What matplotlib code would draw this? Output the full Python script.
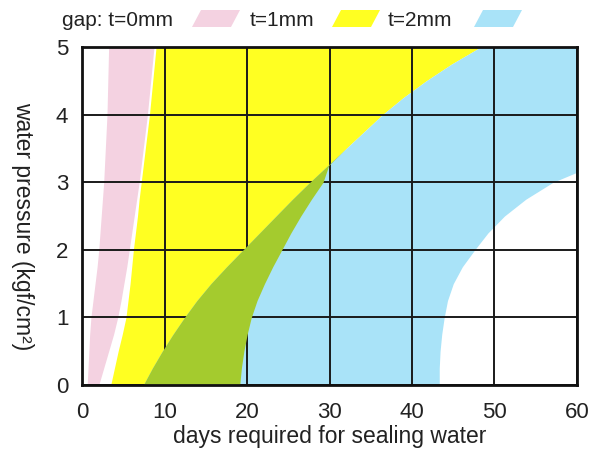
import matplotlib
matplotlib.use("Agg")
import matplotlib.pyplot as plt
from matplotlib.patches import Polygon
import numpy as np

plt.rcParams['font.family'] = ['Liberation Sans', 'DejaVu Sans']

# water pressure levels (kgf/cm2) at which band edges were read
pressure = [0, 0.25, 0.5, 0.75, 1, 1.25, 1.5, 1.75, 2, 2.25, 2.5,
            2.75, 3, 3.25, 3.5, 3.75, 4, 4.25, 4.5, 4.75, 5]

# t = 0 mm band edges (days)
t0_left = [0.6, 0.7, 0.8, 0.9, 1.05, 1.3, 1.55, 1.8, 2.0, 2.15, 2.3,
           2.45, 2.6, 2.7, 2.8, 2.9, 3.0, 3.05, 3.1, 3.15, 3.2]
t0_right = [2.0, 2.6, 3.2, 3.8, 4.3, 4.7, 5.05, 5.4, 5.7, 6.0, 6.3,
            6.6, 6.9, 7.15, 7.4, 7.65, 7.9, 8.1, 8.3, 8.5, 8.7]
# t = 1 mm band edges (days)
t1_left = [3.45, 3.9, 4.35, 4.85, 5.3, 5.55, 5.8, 6.0, 6.2, 6.45, 6.7,
           6.9, 7.15, 7.4, 7.65, 7.9, 8.15, 8.35, 8.55, 8.75, 8.95]
t1_right = [19.1, 19.3, 19.6, 20.0, 20.5, 21.2, 22.1, 23.1, 24.2, 25.3, 26.5,
            27.8, 29.2, 29.9, 32.0, 34.2, 36.4, 38.9, 41.7, 44.8, 48.3]
# t = 2 mm band edges (days)
t2_left = [7.4, 8.5, 9.7, 11.0, 12.4, 13.9, 15.6, 17.5, 19.5, 21.5, 23.5,
           25.5, 27.6, 29.8, 32.0, 34.2, 36.4, 38.9, 41.7, 44.8, 48.3]
t2_right = [43.3, 43.3, 43.4, 43.6, 43.9, 44.3, 45.0, 46.1, 47.6, 49.2, 51.2,
            53.8, 57.1, 62.0, 66, 66, 66, 66, 66, 66, 66]

x_ticks = [0, 10, 20, 30, 40, 50, 60]
y_ticks = [0, 1, 2, 3, 4, 5]
legend_labels = ["gap: t=0mm", "t=1mm", "t=2mm"]

c_pink = "#F4D2E1"
c_yellow = "#FFFF22"
c_blue = "#A9E3F8"
c_green = "#A4CB2E"

fig = plt.figure(figsize=(5.96, 4.53), dpi=100)
ax = fig.add_axes([0.138, 0.150, 0.830, 0.746])

y = np.array(pressure)
ax.fill_betweenx(y, t0_left, t0_right, color=c_pink, lw=0, zorder=1)
ax.fill_betweenx(y, t1_left, t1_right, color=c_yellow, lw=0, zorder=1)
ax.fill_betweenx(y, t2_left, t2_right, color=c_blue, lw=0, zorder=2)
r1 = np.array(t1_right)
l2 = np.array(t2_left)
ax.fill_betweenx(y, l2, r1, where=r1 > l2 - 1e-9, interpolate=True,
                 color=c_green, lw=0, zorder=3)

ax.set_xlim(0, 60)
ax.set_ylim(0, 5)
ax.set_xticks(x_ticks)
ax.set_yticks(y_ticks)
ax.grid(True, color="#1a1a1a", lw=1.4, zorder=4)
ax.set_axisbelow(False)
for s in ax.spines.values():
    s.set_linewidth(2.0)
    s.set_color("#111111")
    s.set_zorder(5)
ax.tick_params(length=0, labelsize=16, colors="#222222")
ax.tick_params(axis='x', pad=12)
ax.tick_params(axis='y', pad=10)
ax.set_xlabel("days required for sealing water", fontsize=16.5, color="#222222", labelpad=2)
ax.set_ylabel("water pressure (kgf/cm²)", fontsize=16.5, color="#222222",
              rotation=-90, va='center', ha='center')
ax.yaxis.set_label_coords(-0.121, 0.47)

# legend
W, H = 596.0, 453.0
def fx(px):
    return px / W
def fy(py):
    return 1 - py / H

swatches = [(192, c_pink), (332, c_yellow), (474, c_blue)]
text_x = [62, 250, 388]
for (x0, col) in swatches:
    poly = Polygon([(fx(x0), fy(27)), (fx(x0 + 39), fy(27)),
                    (fx(x0 + 48), fy(10)), (fx(x0 + 9), fy(10))],
                   closed=True, transform=fig.transFigure, color=col, lw=0)
    fig.patches.append(poly)
for tx, lab in zip(text_x, legend_labels):
    fig.text(fx(tx), fy(26), lab, fontsize=15, color="#222222", ha='left', va='baseline')

fig.savefig("out.png", dpi=100)
